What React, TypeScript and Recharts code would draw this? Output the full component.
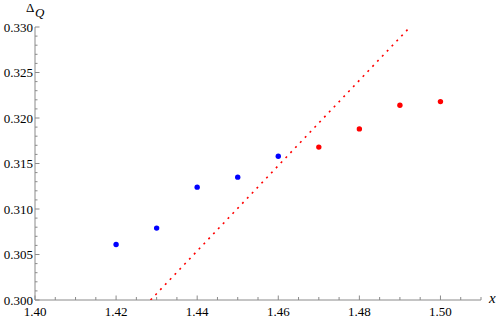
import React from "react";
import { ScatterChart, Scatter, XAxis, YAxis } from "recharts";

// measured points (blue: first set, red: second set)
const blueX = [1.42, 1.43, 1.44, 1.45, 1.46];
const blueY = [0.3061, 0.3079, 0.3124, 0.3135, 0.3158];
const redX = [1.47, 1.48, 1.49, 1.5];
const redY = [0.3168, 0.3188, 0.3214, 0.3218];

// dotted reference line endpoints
const lineX = [1.4285, 1.4925];
const lineY = [0.3, 0.33];

const xTicks = Array.from({ length: 23 }, (_, i) => Math.round((1.4 + i * 0.005) * 1000) / 1000);
const yTicks = Array.from({ length: 31 }, (_, i) => Math.round((0.3 + i * 0.001) * 1000) / 1000);

const blueData = blueX.map((x, i) => ({ x, y: blueY[i] }));
const redData = redX.map((x, i) => ({ x, y: redY[i] }));
const lineData = lineX.map((x, i) => ({ x, y: lineY[i] }));

const AXIS = "#8a8a8a";
const FONT = "Liberation Serif, DejaVu Serif, serif";

const XTick = (props: any) => {
  const { x, y, payload } = props;
  const v = Math.round(payload.value * 1000);
  const major = v % 20 === 0;
  return (
    <g>
      <line x1={x} x2={x} y1={y} y2={y - (major ? 4.5 : 3)} stroke={AXIS} />
      {major && (
        <text x={x} y={y + 16} textAnchor="middle" fontFamily={FONT} fontSize={13} fill="#000">
          {payload.value.toFixed(2)}
        </text>
      )}
    </g>
  );
};

const YTick = (props: any) => {
  const { x, y, payload } = props;
  const v = Math.round(payload.value * 1000);
  const major = v % 5 === 0;
  return (
    <g>
      <line x1={x} x2={x + (major ? 4.5 : 2.5)} y1={y} y2={y} stroke={AXIS} />
      {major && (
        <text x={x - 2} y={y + 4.5} textAnchor="end" fontFamily={FONT} fontSize={13} fill="#000">
          {payload.value.toFixed(3)}
        </text>
      )}
    </g>
  );
};

const dot = (color: string) => (p: any) => <circle cx={p.cx} cy={p.cy} r={2.7} fill={color} />;

export default function App() {
  return (
    <div style={{ position: "absolute", left: 0, top: 0, fontFamily: FONT }}>
      <ScatterChart width={500} height={322} margin={{ top: 27, right: 19, bottom: 0, left: 0 }}>
        <XAxis
          type="number"
          dataKey="x"
          domain={[1.4, 1.51]}
          ticks={xTicks}
          interval={0}
          allowDataOverflow
          height={22}
          tickSize={0}
          tickMargin={0}
          tick={<XTick />}
          axisLine={{ stroke: AXIS }}
          label={{
            content: () => (
              <text x={489} y={303} fontFamily={FONT} fontStyle="italic" fontSize={15} fill="#000">
                x
              </text>
            ),
          }}
        />
        <YAxis
          type="number"
          dataKey="y"
          domain={[0.3, 0.33]}
          ticks={yTicks}
          interval={0}
          allowDataOverflow
          width={35}
          tickSize={0}
          tickMargin={0}
          tick={<YTick />}
          axisLine={{ stroke: AXIS }}
          label={{
            content: () => (
              <text x={26} y={12} fontFamily={FONT} fontSize={13} fill="#000">
                Δ
                <tspan dx={0.5} dy={4.5} fontStyle="italic" fontSize={13}>
                  Q
                </tspan>
              </text>
            ),
          }}
        />
        <Scatter
          data={lineData}
          line={{ stroke: "#ff0000", strokeWidth: 1.6, strokeDasharray: "2 5" }}
          shape={() => <g />}
          isAnimationActive={false}
        />
        <Scatter data={blueData} fill="#0000ff" shape={dot("#0000ff")} isAnimationActive={false} />
        <Scatter data={redData} fill="#ff0000" shape={dot("#ff0000")} isAnimationActive={false} />
      </ScatterChart>
    </div>
  );
}
